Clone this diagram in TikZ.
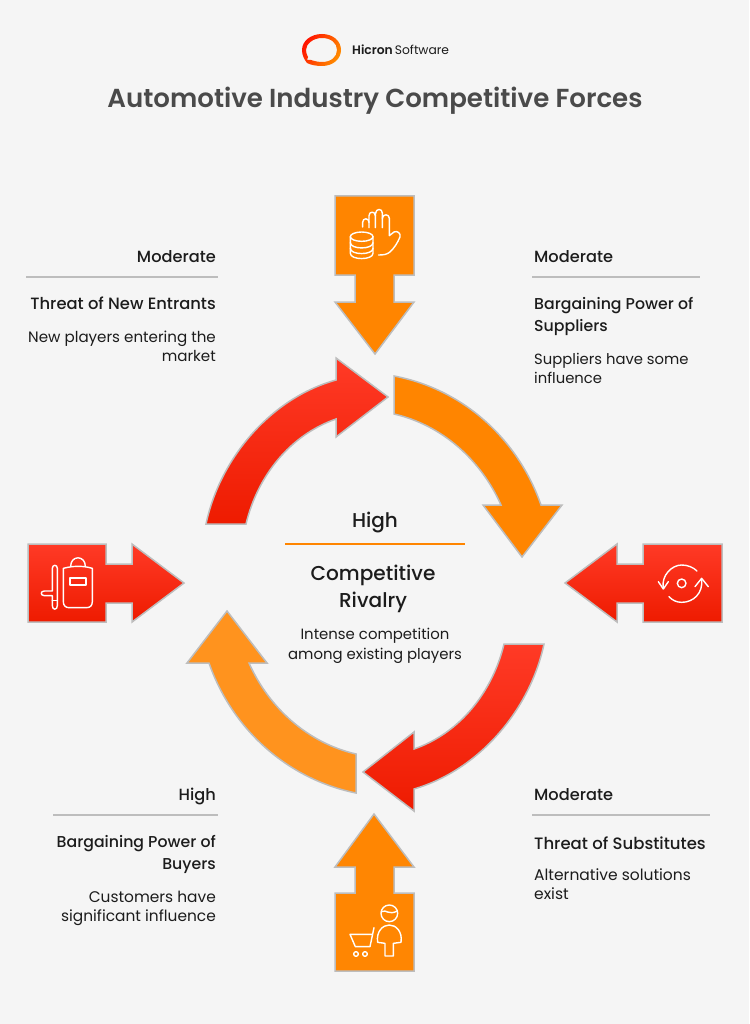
\documentclass[tikz,border=0pt]{standalone}
\usepackage{fontspec}
\setmainfont{Poppins}
\newfontfamily\medf{Poppins Medium}
\newfontfamily\semif{Poppins SemiBold}
\definecolor{bgc}{HTML}{F5F5F5}
\definecolor{edge}{HTML}{BDBDBD}
\definecolor{redtop}{HTML}{FF3A26}
\definecolor{redbot}{HTML}{EE1B00}
\definecolor{orA}{HTML}{FF8500}
\definecolor{orB}{HTML}{FF931E}
\definecolor{ink}{HTML}{1C1C1C}
\definecolor{titlec}{HTML}{4A4A4A}
\tikzset{
  x=1pt,y=-1pt,
  redform/.style={draw=edge,line width=1.5pt,line join=miter,top color=redtop,bottom color=redbot},
  orform/.style={draw=edge,line width=1.5pt,fill=orA},
  orlight/.style={draw=edge,line width=1.5pt,fill=orB},
  iconline/.style={draw=white,line width=1.4pt,line cap=round,line join=round},
  txthead/.style={font=\fontsize{16.2}{20}\selectfont\medf,text=ink,inner sep=0pt},
  txtname/.style={font=\fontsize{15.75}{22}\selectfont\medf,text=ink,inner sep=0pt},
  txtwide/.style={font=\fontsize{16.5}{22}\selectfont\medf,text=ink,inner sep=0pt},
  txtbody/.style={font=\fontsize{15.1}{19.5}\selectfont,text=ink,inner sep=0pt},
  grayrule/.style={draw=edge,line width=1.6pt},
}
\begin{document}
\begin{tikzpicture}
\path[use as bounding box,fill=bgc] (0,0) rectangle (749,1024);
% logo
\path[even odd rule,left color=red!85!orange,right color=orange!90!yellow,shading angle=60]
  (322,34) .. controls (333,34) and (341,41) .. (341,50) .. controls (341,59) and (333,66) .. (322,66)
  .. controls (316,66) and (311,65) .. (307,63) .. controls (304,59) and (302,55) .. (302,50)
  .. controls (302,41) and (311,34) .. (322,34) --cycle
  (322,38) .. controls (313,38) and (306,44) .. (306,50) .. controls (306,53) and (307,55) .. (308,57)
  -- (307,60) -- (311,60) .. controls (314,61) and (318,62) .. (322,62)
  .. controls (331,62) and (337,57) .. (337,50) .. controls (337,43) and (331,38) .. (322,38) --cycle;
\node[anchor=west,inner sep=0pt,font=\fontsize{12.3}{16}\selectfont,text=ink] (brand) at (352,50) {{\semif Hicron}\hspace{-1.2pt} Software};
\node[inner sep=0pt,font=\fontsize{26.05}{30}\selectfont\semif,text=titlec] (title) at (375,100.5) {Automotive Industry Competitive Forces};
% straight arrows
\path[orform] (335,196) -- (414,196) -- (414,275) -- (394,275) -- (394,302) -- (414,302) -- (375,354) -- (335,302) -- (355,302) -- (355,275) -- (335,275) -- cycle;
\path[orform,fill=orA!92!orB] (335,971) -- (414,971) -- (414,893) -- (394,893) -- (394,867) -- (414,867) -- (374,814) -- (335,867) -- (355,867) -- (355,893) -- (335,893) -- cycle;
\path[redform] (28,544) -- (106,544) -- (106,564) -- (132,564) -- (132,544) -- (184,583) -- (132,622) -- (132,603) -- (106,603) -- (106,622) -- (28,622) -- cycle;
\path[redform] (722,544) -- (643,544) -- (643,564) -- (617,564) -- (617,544) -- (565,583) -- (617,622) -- (617,603) -- (643,603) -- (643,622) -- (722,622) -- cycle;
% curved arrows
\path[redform] (206,524) .. controls (220,458) and (271,398) .. (336,380) -- (336,358) -- (388,397) -- (336,437) -- (336,419)
  .. controls (290,435) and (257.5,476) .. (246,524) -- cycle;
\path[orform] (394,376) .. controls (463,389) and (518,439) .. (541,505) -- (562,505) -- (522,557) -- (483,505) -- (501,505)
  .. controls (481,460) and (442,425) .. (394,414) -- cycle;
\path[redform] (544,644) .. controls (530,710) and (479,770) .. (414,789) -- (414,811) -- (363,772) -- (414,732) -- (414,749)
  .. controls (460,733) and (492.5,692) .. (504,644) -- cycle;
\path[orlight] (356,793) .. controls (287,779) and (232,729) .. (209,663) -- (187,663) -- (227,611) -- (267,663) -- (249,663)
  .. controls (269,708) and (308,743) .. (356,754) -- cycle;
% icons
\begin{scope}[shift={(320,185)},x=0.3333pt,y=-0.3333pt]
 \draw[iconline] (125,155) ellipse[x radius=34,y radius=14];
 \draw[iconline] (91,155) -- (91,205) .. controls (91,226) and (159,226) .. (159,205) -- (159,155);
 \draw[iconline] (91,173) .. controls (91,194) and (159,194) .. (159,173);
 \draw[iconline] (91,190) .. controls (91,211) and (159,211) .. (159,190);
 \draw[iconline] (128,126) -- (128,112) .. controls (128,98) and (147,98) .. (147,112) -- (147,128);
 \draw[iconline] (147,112) -- (147,92) .. controls (147,78) and (166,78) .. (166,92) -- (166,128);
 \draw[iconline] (166,92) -- (167,84) .. controls (168,70) and (187,70) .. (187,84) -- (187,128);
 \draw[iconline] (187,100) .. controls (188,86) and (208,86) .. (208,100) -- (208,152) -- (222,141)
   .. controls (232,136) and (243,145) .. (240,156) .. controls (232,175) and (222,190) .. (210,201)
   .. controls (200,209) and (190,210) .. (176,210);
\end{scope}
\begin{scope}[shift={(15,535)},x=0.3333pt,y=-0.3333pt]
 \draw[iconline] (112,100) .. controls (112,88) and (127,88) .. (127,100) -- (127,212) .. controls (127,226) and (112,226) .. (112,212) -- (112,182) -- (88,182) .. controls (76,182) and (76,168) .. (88,168) -- (112,168) -- cycle;
 \draw[iconline] (112,196) -- (127,196);
 \draw[iconline] (145,100) .. controls (175,92) and (205,92) .. (232,100) -- (232,200) .. controls (232,212) and (225,218) .. (215,218) -- (162,218) .. controls (152,218) and (145,212) .. (145,200) -- cycle;
 \draw[iconline] (167,94) .. controls (167,60) and (211,60) .. (211,94);
 \draw[iconline] (165,129) rectangle (213,150);
\end{scope}
\begin{scope}[shift={(555,535)},x=0.3333pt,y=-0.3333pt]
 \draw[iconline] (380,145) circle[x radius=13,y radius=13];
 \draw[iconline] (325,160) .. controls (318,122) and (350,90) .. (380,90) .. controls (398,90) and (415,97) .. (426,108);
 \draw[iconline] (342,185) .. controls (352,196) and (365,202) .. (380,202) .. controls (415,202) and (445,175) .. (440,132);
 \draw[iconline] (310,140) -- (325,162) -- (340,140);
 \draw[iconline] (420,155) -- (440,130) -- (460,155);
\end{scope}
\begin{scope}[shift={(320,805)},x=0.3333pt,y=-0.3333pt]
 \draw[iconline] (208,325) circle[x radius=25,y radius=25];
 \draw[iconline] (184,320) .. controls (200,312) and (205,332) .. (232,318);
 \draw[iconline] (195,453) -- (220,453) -- (220,415) -- (243,412) .. controls (248,380) and (228,360) .. (208,360) .. controls (188,360) and (168,380) .. (173,412) -- (195,415) -- cycle;
 \draw[iconline] (162,368) -- (150,425) -- (106,425) -- (90,388) -- (155,388);
 \draw[iconline] (108,447) circle[x radius=7,y radius=7];
 \draw[iconline] (135,447) circle[x radius=7,y radius=7];
\end{scope}
% top-left text
\node[txthead,anchor=east] (tlh) at (216,257) {Moderate};
\coordinate (tla) at (26,277); \coordinate (tlb) at (218,277);
\draw[grayrule] (tla) -- (tlb);
\node[txtwide,font=\fontsize{16.35}{22}\selectfont\medf,anchor=east] (tln) at (216,303.5) {Threat of New Entrants};
\node[txtbody,anchor=east,align=right] (tlt) at (216,346.5) {New players entering the\\market};
% top-right text
\node[txthead,anchor=west] (trh) at (534,257) {Moderate};
\coordinate (tra) at (532,277); \coordinate (trb) at (700,277);
\draw[grayrule] (tra) -- (trb);
\node[txtname,anchor=west,align=left] (trn) at (534,316) {Bargaining Power of\\Suppliers};
\node[txtbody,font=\fontsize{14.8}{19.5}\selectfont,anchor=west,align=left] (trt) at (534,368.5) {Suppliers have some\\influence};
% centre
\node[inner sep=0pt,font=\fontsize{20}{24}\selectfont\medf,text=ink] (ch) at (375,523) {High};
\coordinate (ca) at (285,544); \coordinate (cb) at (465,544);
\draw[draw=orA,line width=1.6pt] (ca) -- (cb);
\node[inner sep=0pt,align=center,font=\fontsize{20.1}{27}\selectfont\medf,text=ink] (cn) at (373,589) {Competitive\\Rivalry};
\node[inner sep=0pt,align=center,font=\fontsize{14.9}{20}\selectfont,text=ink] (ct) at (375,646) {Intense competition\\among existing players};
% bottom-left text
\node[txthead,anchor=east] (blh) at (216,796) {High};
\coordinate (bla) at (53,815); \coordinate (blb) at (218,815);
\draw[grayrule] (bla) -- (blb);
\node[txtname,anchor=east,align=right] (bln) at (216,854) {Bargaining Power of\\Buyers};
\node[txtbody,font=\fontsize{15.4}{19.5}\selectfont,anchor=east,align=right] (blt) at (216,908.5) {Customers have\\significant influence};
% bottom-right text
\node[txthead,anchor=west] (brh) at (534,795) {Moderate};
\coordinate (bra) at (532,815); \coordinate (brb) at (710,815);
\draw[grayrule] (bra) -- (brb);
\node[txtwide,anchor=west] (brn) at (534,843) {Threat of Substitutes};
\node[txtbody,font=\fontsize{15.5}{19.5}\selectfont,anchor=west,align=left] (brt) at (534,884) {Alternative solutions\\exist};
\end{tikzpicture}
\end{document}
